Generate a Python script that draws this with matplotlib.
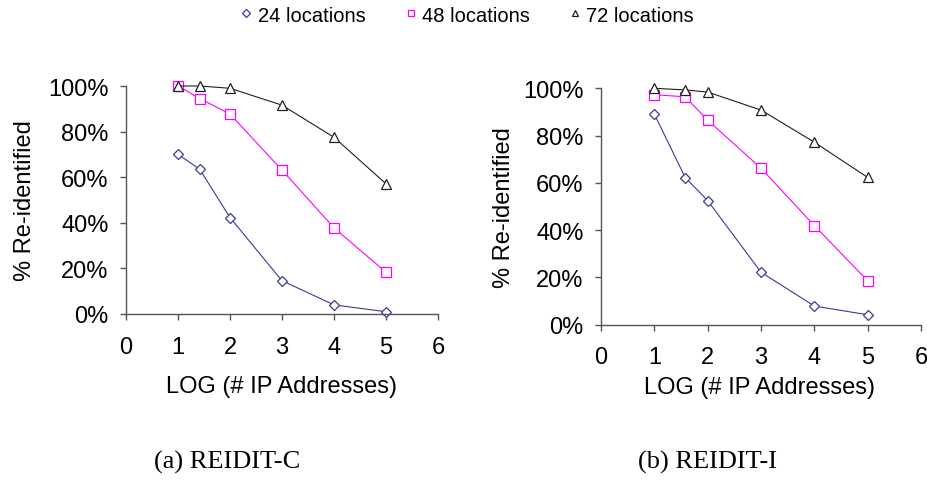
import matplotlib.pyplot as plt
from matplotlib.lines import Line2D
from matplotlib.ticker import PercentFormatter

plt.rcParams['font.family'] = ['Liberation Sans', 'DejaVu Sans']

# REIDIT-C
x_c = [1, 1.42, 2, 3, 4, 5]
c_24 = [70.1, 63.4, 42.3, 14.6, 4.0, 1.0]
c_48 = [100, 94.5, 87.7, 63.1, 37.8, 18.3]
c_72 = [100, 100, 99.0, 91.6, 77.5, 57.1]

# REIDIT-I
x_i = [1, 1.58, 2, 3, 4, 5]
i_24 = [89.1, 62.2, 52.5, 22.2, 7.9, 4.2]
i_48 = [97.3, 96.4, 86.5, 66.2, 41.9, 18.6]
i_72 = [100, 99.3, 98.4, 90.8, 77.2, 62.3]

series_labels = ["24 locations", "48 locations", "72 locations"]
colors = ["#3a3a98", "#ff00ff", "#202020"]
markers = ["D", "s", "^"]
msizes = [5.5, 6.5, 7]
xticks = [0, 1, 2, 3, 4, 5, 6]
yticks = [0, 20, 40, 60, 80, 100]

fig = plt.figure(figsize=(9.28, 4.89), dpi=100)

def draw_panel(rect, x, ys, caption, ylab_pos, xlab_pos, cap_x):
    ax = fig.add_axes(rect)
    for y, c, m, ms in zip(ys, colors, markers, msizes):
        ax.plot(x, y, color=c, linewidth=0.8, marker=m, markersize=ms,
                markerfacecolor="white", markeredgecolor=c, markeredgewidth=0.9,
                clip_on=False)
    ax.set_xlim(0, 6)
    ax.set_ylim(0, 100)
    ax.set_xticks(xticks)
    ax.set_yticks(yticks)
    ax.yaxis.set_major_formatter(PercentFormatter(decimals=0))
    for s in ["top", "right"]:
        ax.spines[s].set_visible(False)
    for s in ["left", "bottom"]:
        ax.spines[s].set_color("#555555")
        ax.spines[s].set_linewidth(1.0)
    ax.tick_params(direction="out", length=4.5, width=1.0, color="#555555",
                   labelsize=17)
    ax.tick_params(axis="x", pad=11)
    ax.tick_params(axis="y", pad=8)
    fig.text(ylab_pos[0] / 928, 1 - ylab_pos[1] / 489, "% Re-identified",
             rotation=90, ha="center", va="center", fontsize=17)
    fig.text(xlab_pos[0] / 928, 1 - xlab_pos[1] / 489, "LOG (# IP Addresses)",
             ha="center", va="center", fontsize=17)
    fig.text(cap_x / 928, 1 - 462 / 489, caption,
             ha="left", va="center", fontsize=19, family="Liberation Serif")
    return ax

draw_panel([126 / 928, 1 - 315 / 489, 312 / 928, 228 / 489],
           x_c, [c_24, c_48, c_72], "(a) REIDIT-C", (25, 201), (282, 387), 154)
draw_panel([601 / 928, 1 - 325.7 / 489, 320 / 928, 236.4 / 489],
           x_i, [i_24, i_48, i_72], "(b) REIDIT-I", (504, 208), (760, 388), 638)

handles = [Line2D([], [], linestyle="none", marker=m, markersize=ms * 0.7,
                  markerfacecolor="white", markeredgecolor=c, markeredgewidth=0.9)
           for c, m, ms in zip(colors, markers, msizes)]
fig.legend(handles, series_labels, loc="center", bbox_to_anchor=(467 / 928, 1 - 16 / 489),
           ncol=3, frameon=False, fontsize=14.5, handlelength=0.6, handletextpad=0.25,
           columnspacing=1.95)

fig.savefig("out.png", dpi=100)
